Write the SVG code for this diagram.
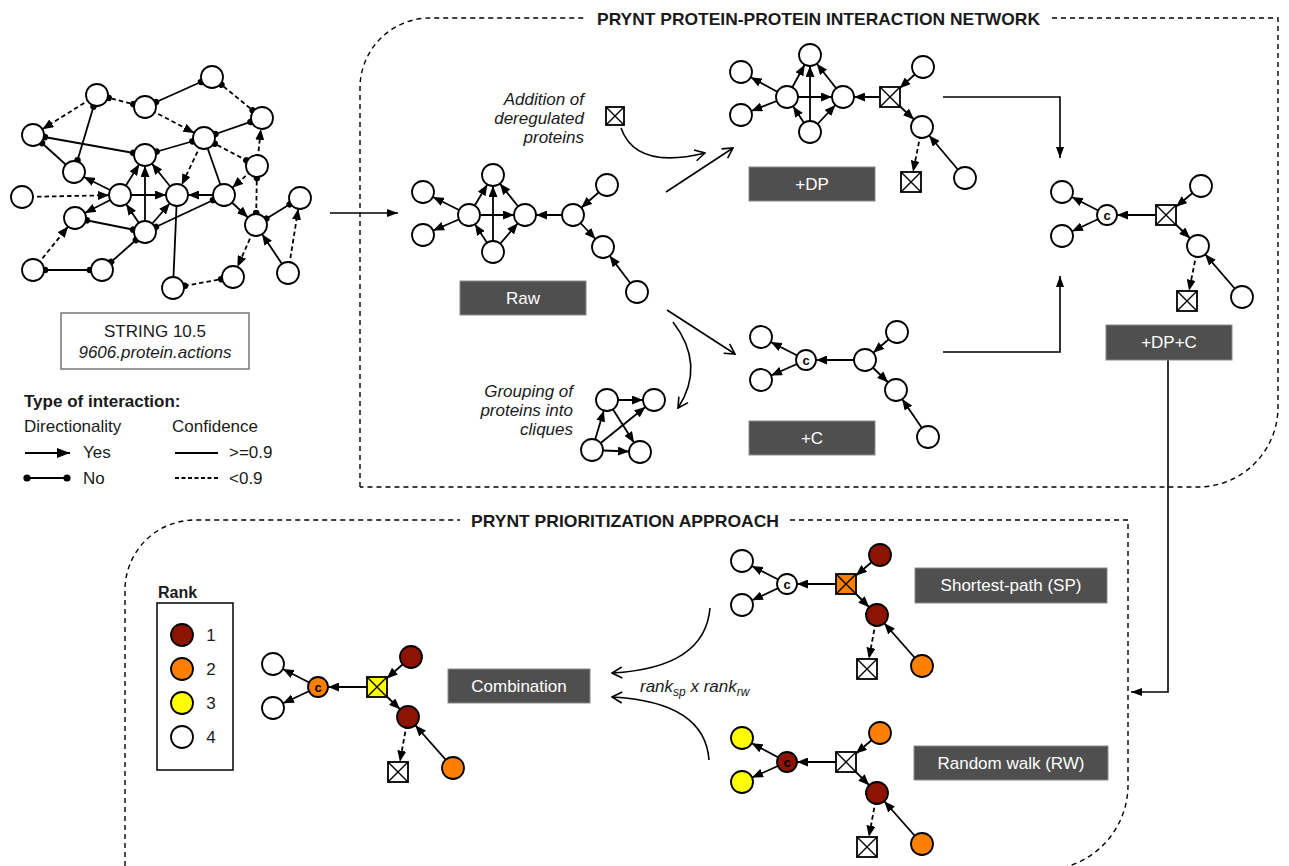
<svg xmlns="http://www.w3.org/2000/svg" width="1289" height="866" viewBox="0 0 1289 866">
<style>
text{font-family:"Liberation Sans",Arial,sans-serif;fill:#1a1a1a}
.n circle{fill:#fff;stroke:#000;stroke-width:1.8}
.sq rect{fill:#fff;stroke:#000;stroke-width:1.8}
.sq path{fill:none;stroke:#000;stroke-width:1.4}
.e{fill:none;stroke:#000;stroke-width:1.8}
.d{stroke-dasharray:4.5 3}
.flow{fill:none;stroke:#000;stroke-width:1.6}
.panel{fill:none;stroke:#000;stroke-width:1.4;stroke-dasharray:5 4}
.box rect{fill:#4f4f4f;stroke:#8a8a8a;stroke-width:1}
.box text{fill:#fff;font-size:17px;text-anchor:middle}
.lab{font-size:17px}
.it{font-size:17px;font-style:italic;text-anchor:end}
.cl{font-size:13px;font-weight:bold;text-anchor:middle;fill:#000}
.r1{fill:#8c1400!important}
.r2{fill:#ff8000!important}
.r3{fill:#ffff00!important}
</style>
<defs>
<marker id="ar" markerUnits="userSpaceOnUse" viewBox="0 -4.5 11 9" markerWidth="11" markerHeight="9" refX="22" refY="0" orient="auto"><path d="M0,-4.5 L11,0 L0,4.5 z" fill="#000"/></marker>
<marker id="arc" markerUnits="userSpaceOnUse" viewBox="0 -4.5 11 9" markerWidth="11" markerHeight="9" refX="21" refY="0" orient="auto"><path d="M0,-4.5 L11,0 L0,4.5 z" fill="#000"/></marker>
<marker id="arq" markerUnits="userSpaceOnUse" viewBox="0 -4.5 11 9" markerWidth="11" markerHeight="9" refX="24" refY="0" orient="auto"><path d="M0,-4.5 L11,0 L0,4.5 z" fill="#000"/></marker>
<marker id="arv" markerUnits="userSpaceOnUse" viewBox="0 -4.5 11 9" markerWidth="11" markerHeight="9" refX="21.5" refY="0" orient="auto"><path d="M0,-4.5 L11,0 L0,4.5 z" fill="#000"/></marker>
<marker id="dt" markerUnits="userSpaceOnUse" viewBox="-4 -4 8 8" markerWidth="8" markerHeight="8" refX="12" refY="0" orient="auto-start-reverse"><circle cx="0" cy="0" r="3.3" fill="#000"/></marker>
<marker id="fa" markerUnits="userSpaceOnUse" viewBox="0 -4 11 8" markerWidth="11" markerHeight="8" refX="11" refY="0" orient="auto"><path d="M0,-4 L11,0 L0,4 z" fill="#000"/></marker>
<marker id="la" markerUnits="userSpaceOnUse" viewBox="0 -5 13 10" markerWidth="13" markerHeight="10" refX="13" refY="0" orient="auto"><path d="M0,-5 L13,0 L0,5 z" fill="#000"/></marker>
<marker id="oa" markerUnits="userSpaceOnUse" viewBox="-11 -7 12 14" markerWidth="12" markerHeight="14" refX="0" refY="0" orient="auto"><path d="M-10,-5.5 L0,0 L-10,5.5" fill="none" stroke="#000" stroke-width="1.6"/></marker>
</defs>

<!-- panels -->
<path class="panel" d="M360,487 V88 A70,70 0 0 1 430,18 H586 M1052,18 H1278 V407 A80,80 0 0 1 1198,487 H360"/>
<path class="panel" d="M125,875 V590 A70,70 0 0 1 195,520 H460 M790,520 H1128 V785 A85,85 0 0 1 1043,870"/>
<text x="597" y="25" font-size="17" font-weight="bold" textLength="443" lengthAdjust="spacingAndGlyphs">PRYNT PROTEIN-PROTEIN INTERACTION NETWORK</text>
<text x="471" y="527" font-size="17" font-weight="bold" textLength="308" lengthAdjust="spacingAndGlyphs">PRYNT PRIORITIZATION APPROACH</text>

<g id="connectors">
<!-- STRING network -->
<path class="e d" d="M97,95 L145,107" marker-start="url(#dt)" marker-end="url(#dt)"/>
<path class="e d" d="M97,95 L33,135" marker-end="url(#ar)"/>
<path class="e" d="M97,95 L74,172" marker-start="url(#dt)" marker-end="url(#dt)"/>
<path class="e" d="M145,107 L212,77" marker-start="url(#dt)" marker-end="url(#dt)"/>
<path class="e d" d="M212,77 L262,118" marker-start="url(#dt)" marker-end="url(#dt)"/>
<path class="e d" d="M145,107 L204,138" marker-end="url(#ar)"/>
<path class="e" d="M204,138 L262,118" marker-start="url(#dt)" marker-end="url(#dt)"/>
<path class="e d" d="M257,166 L262,118" marker-end="url(#ar)"/>
<path class="e" d="M33,135 L145,155" marker-start="url(#dt)" marker-end="url(#dt)"/>
<path class="e" d="M33,135 L74,172" marker-start="url(#dt)"/>
<path class="e" d="M145,155 L204,138" marker-start="url(#dt)" marker-end="url(#dt)"/>
<path class="e d" d="M204,138 L177,195" marker-end="url(#ar)"/>
<path class="e" d="M204,138 L224,195"/>
<path class="e d" d="M204,138 L257,166" marker-start="url(#dt)" marker-end="url(#dt)"/>
<path class="e d" d="M257,166 L224,195" marker-end="url(#ar)"/>
<path class="e d" d="M257,166 L256,225" marker-start="url(#dt)" marker-end="url(#dt)"/>
<path class="e" d="M120,195 L74,172" marker-end="url(#ar)"/>
<path class="e" d="M120,195 L145,155" marker-end="url(#ar)"/>
<path class="e" d="M177,195 L145,155" marker-end="url(#ar)"/>
<path class="e" d="M145,232 L145,155" marker-end="url(#ar)"/>
<path class="e d" d="M22,197 L120,195" marker-end="url(#ar)"/>
<path class="e" d="M120,195 L177,195" marker-end="url(#ar)"/>
<path class="e" d="M224,195 L177,195" marker-end="url(#ar)"/>
<path class="e" d="M120,195 L75,218" marker-end="url(#ar)"/>
<path class="e" d="M145,232 L120,195" marker-end="url(#ar)"/>
<path class="e" d="M145,232 L177,195" marker-end="url(#ar)"/>
<path class="e" d="M75,218 L145,232" marker-start="url(#dt)" marker-end="url(#dt)"/>
<path class="e" d="M145,232 L224,195" marker-start="url(#dt)" marker-end="url(#dt)"/>
<path class="e" d="M177,195 L173,288"/>
<path class="e" d="M224,195 L256,225" marker-end="url(#ar)"/>
<path class="e" d="M256,225 L300,198" marker-start="url(#dt)" marker-end="url(#dt)"/>
<path class="e d" d="M288,273 L300,198" marker-end="url(#ar)"/>
<path class="e" d="M288,273 L256,225" marker-end="url(#ar)"/>
<path class="e d" d="M256,225 L233,277" marker-end="url(#ar)"/>
<path class="e d" d="M233,277 L173,288" marker-start="url(#dt)" marker-end="url(#dt)"/>
<path class="e d" d="M33,270 L75,218" marker-end="url(#ar)"/>
<path class="e" d="M33,270 L102,270" marker-start="url(#dt)" marker-end="url(#dt)"/>
<path class="e" d="M102,270 L145,232" marker-start="url(#dt)" marker-end="url(#dt)"/>

<!-- Raw -->
<path class="e" d="M469,215 L423,192" marker-end="url(#ar)"/>
<path class="e" d="M469,215 L423,235" marker-end="url(#ar)"/>
<path class="e" d="M469,215 L493,175" marker-end="url(#ar)"/>
<path class="e" d="M493,252 L493,175" marker-end="url(#ar)"/>
<path class="e" d="M469,215 L525,215" marker-end="url(#ar)"/>
<path class="e" d="M525,215 L493,175" marker-end="url(#ar)"/>
<path class="e" d="M493,252 L469,215" marker-end="url(#ar)"/>
<path class="e" d="M493,252 L525,215" marker-end="url(#ar)"/>
<path class="e" d="M573,215 L525,215" marker-end="url(#ar)"/>
<path class="e" d="M607,185 L573,215" marker-end="url(#ar)"/>
<path class="e" d="M573,215 L603,247" marker-end="url(#ar)"/>
<path class="e" d="M637,292 L603,247" marker-end="url(#ar)"/>

<!-- +DP -->
<path class="e" d="M787,97 L741,72" marker-end="url(#ar)"/>
<path class="e" d="M787,97 L741,115" marker-end="url(#ar)"/>
<path class="e" d="M787,97 L810,55" marker-end="url(#ar)"/>
<path class="e" d="M810,132 L810,55" marker-end="url(#ar)"/>
<path class="e" d="M787,97 L843,97" marker-end="url(#ar)"/>
<path class="e" d="M843,97 L810,55" marker-end="url(#ar)"/>
<path class="e" d="M810,132 L787,97" marker-end="url(#ar)"/>
<path class="e" d="M810,132 L843,97" marker-end="url(#ar)"/>
<path class="e" d="M890,97 L843,97" marker-end="url(#ar)"/>
<path class="e" d="M923,67 L890,97" marker-end="url(#arq)"/>
<path class="e" d="M890,97 L922,127" marker-end="url(#ar)"/>
<path class="e d" d="M922,127 L911,182" marker-end="url(#arv)"/>
<path class="e" d="M965,178 L922,127" marker-end="url(#ar)"/>

<!-- +DP+C -->
<path class="e" d="M1107,215 L1062,192" marker-end="url(#ar)"/>
<path class="e" d="M1107,215 L1062,236" marker-end="url(#ar)"/>
<path class="e" d="M1166,215 L1107,215" marker-end="url(#arc)"/>
<path class="e" d="M1201,186 L1166,215" marker-end="url(#arq)"/>
<path class="e" d="M1166,215 L1198,246" marker-end="url(#ar)"/>
<path class="e d" d="M1198,246 L1187,301" marker-end="url(#arv)"/>
<path class="e" d="M1242,297 L1198,246" marker-end="url(#ar)"/>

<!-- +C -->
<path class="e" d="M806,360 L761,337" marker-end="url(#ar)"/>
<path class="e" d="M806,360 L761,380" marker-end="url(#ar)"/>
<path class="e" d="M865,360 L806,360" marker-end="url(#arc)"/>
<path class="e" d="M897,332 L865,360" marker-end="url(#ar)"/>
<path class="e" d="M865,360 L896,390" marker-end="url(#ar)"/>
<path class="e" d="M928,437 L896,390" marker-end="url(#ar)"/>

<!-- cliques -->
<path class="e" d="M592,450 L607,400" marker-end="url(#ar)"/>
<path class="e" d="M607,400 L654,400" marker-end="url(#ar)"/>
<path class="e" d="M592,450 L640,452" marker-end="url(#ar)"/>
<path class="e" d="M607,400 L640,452" marker-end="url(#ar)"/>
<path class="e" d="M592,450 L654,400" marker-end="url(#ar)"/>

<!-- Combination -->
<path class="e" d="M318,687 L273,664" marker-end="url(#ar)"/>
<path class="e" d="M318,687 L273,708" marker-end="url(#ar)"/>
<path class="e" d="M377,687 L318,687" marker-end="url(#arc)"/>
<path class="e" d="M411,657 L377,687" marker-end="url(#arq)"/>
<path class="e" d="M377,687 L408,717" marker-end="url(#ar)"/>
<path class="e d" d="M408,717 L398,772" marker-end="url(#arv)"/>
<path class="e" d="M453,768 L408,717" marker-end="url(#ar)"/>

<!-- SP -->
<path class="e" d="M787,584 L742,561" marker-end="url(#ar)"/>
<path class="e" d="M787,584 L742,605" marker-end="url(#ar)"/>
<path class="e" d="M846,584 L787,584" marker-end="url(#arc)"/>
<path class="e" d="M880,555 L846,584" marker-end="url(#arq)"/>
<path class="e" d="M846,584 L877,615" marker-end="url(#ar)"/>
<path class="e d" d="M877,615 L867,669" marker-end="url(#arv)"/>
<path class="e" d="M922,666 L877,615" marker-end="url(#ar)"/>

<!-- RW -->
<path class="e" d="M787,762 L742,738" marker-end="url(#ar)"/>
<path class="e" d="M787,762 L742,782" marker-end="url(#ar)"/>
<path class="e" d="M846,762 L787,762" marker-end="url(#arc)"/>
<path class="e" d="M880,733 L846,762" marker-end="url(#arq)"/>
<path class="e" d="M846,762 L877,793" marker-end="url(#ar)"/>
<path class="e d" d="M877,793 L867,847" marker-end="url(#arv)"/>
<path class="e" d="M922,844 L877,793" marker-end="url(#ar)"/>

<!-- flow arrows -->
<path class="flow" d="M330,213 H398" marker-end="url(#fa)"/>
<path class="flow" d="M943,97 H1060 V158" marker-end="url(#fa)"/>
<path class="flow" d="M943,352 H1060 V276" marker-end="url(#fa)"/>
<path class="flow" d="M1168,360 V692 H1131" marker-end="url(#fa)"/>
<path class="flow" d="M666,192 L733,148" marker-end="url(#oa)"/>
<path class="flow" d="M667,310 L735,354" marker-end="url(#oa)"/>
<path class="flow" d="M621,128 Q636,170 705,153" marker-end="url(#oa)"/>
<path class="flow" d="M673,322 Q706,365 678,408" marker-end="url(#oa)"/>
<path class="flow" d="M710,608 Q705,668 612,673" marker-end="url(#oa)"/>
<path class="flow" d="M709,760 Q705,702 612,697" marker-end="url(#oa)"/>
</g>

<!-- STRING network nodes -->
<g id="s-A" class="n"><circle cx="212" cy="77" r="11"/></g>
<g id="s-B" class="n"><circle cx="97" cy="95" r="11"/></g>
<g id="s-C" class="n"><circle cx="145" cy="107" r="11"/></g>
<g id="s-D" class="n"><circle cx="262" cy="118" r="11"/></g>
<g id="s-E" class="n"><circle cx="33" cy="135" r="11"/></g>
<g id="s-F" class="n"><circle cx="204" cy="138" r="11"/></g>
<g id="s-G" class="n"><circle cx="145" cy="155" r="11"/></g>
<g id="s-H" class="n"><circle cx="74" cy="172" r="11"/></g>
<g id="s-I" class="n"><circle cx="257" cy="166" r="11"/></g>
<g id="s-J" class="n"><circle cx="22" cy="197" r="11"/></g>
<g id="s-K" class="n"><circle cx="120" cy="195" r="11"/></g>
<g id="s-L" class="n"><circle cx="177" cy="195" r="11"/></g>
<g id="s-M" class="n"><circle cx="224" cy="195" r="11"/></g>
<g id="s-N" class="n"><circle cx="300" cy="198" r="11"/></g>
<g id="s-O" class="n"><circle cx="75" cy="218" r="11"/></g>
<g id="s-P" class="n"><circle cx="256" cy="225" r="11"/></g>
<g id="s-Q" class="n"><circle cx="145" cy="232" r="11"/></g>
<g id="s-R" class="n"><circle cx="33" cy="270" r="11"/></g>
<g id="s-S" class="n"><circle cx="102" cy="270" r="11"/></g>
<g id="s-T" class="n"><circle cx="233" cy="277" r="11"/></g>
<g id="s-U" class="n"><circle cx="288" cy="273" r="11"/></g>
<g id="s-V" class="n"><circle cx="173" cy="288" r="11"/></g>

<!-- STRING box and legend -->
<g id="string-box">
<rect x="61" y="313" width="188" height="56" fill="#fff" stroke="#777" stroke-width="1.5"/>
<text class="lab" x="155" y="337" text-anchor="middle">STRING 10.5</text>
<text class="lab" x="155" y="358" text-anchor="middle" font-style="italic">9606.protein.actions</text>
</g>
<g id="legend-interaction">
<text x="24" y="407" font-size="17" font-weight="bold">Type of interaction:</text>
<text class="lab" x="24" y="432">Directionality</text>
<text class="lab" x="172" y="432">Confidence</text>
<path class="e" d="M25,453 H70" marker-end="url(#la)"/>
<text class="lab" x="83" y="458">Yes</text>
<path class="e" d="M27,478 H67"/>
<circle cx="27" cy="478" r="3.6"/>
<circle cx="67" cy="478" r="3.6"/>
<text class="lab" x="83" y="484">No</text>
<path class="e" d="M175,453 H218"/>
<text class="lab" x="229" y="458">&gt;=0.9</text>
<path class="e" d="M175,478 H218" stroke-dasharray="4 2.5"/>
<text class="lab" x="229" y="484">&lt;0.9</text>
</g>

<!-- Raw network -->
<g id="raw-1" class="n"><circle cx="423" cy="192" r="11"/></g>
<g id="raw-2" class="n"><circle cx="423" cy="235" r="11"/></g>
<g id="raw-3" class="n"><circle cx="493" cy="175" r="11"/></g>
<g id="raw-4" class="n"><circle cx="469" cy="215" r="11"/></g>
<g id="raw-5" class="n"><circle cx="525" cy="215" r="11"/></g>
<g id="raw-6" class="n"><circle cx="493" cy="252" r="11"/></g>
<g id="raw-7" class="n"><circle cx="573" cy="215" r="11"/></g>
<g id="raw-8" class="n"><circle cx="607" cy="185" r="11"/></g>
<g id="raw-9" class="n"><circle cx="603" cy="247" r="11"/></g>
<g id="raw-10" class="n"><circle cx="637" cy="292" r="11"/></g>
<g id="raw-label" class="box"><rect x="460" y="281" width="126" height="34"/><text x="523" y="304">Raw</text></g>

<!-- +DP network -->
<g id="dp-1" class="n"><circle cx="741" cy="72" r="11"/></g>
<g id="dp-2" class="n"><circle cx="741" cy="115" r="11"/></g>
<g id="dp-3" class="n"><circle cx="810" cy="55" r="11"/></g>
<g id="dp-4" class="n"><circle cx="787" cy="97" r="11"/></g>
<g id="dp-5" class="n"><circle cx="843" cy="97" r="11"/></g>
<g id="dp-6" class="n"><circle cx="810" cy="132" r="11"/></g>
<g id="dp-x" class="sq"><rect x="880" y="87" width="20" height="20"/><path d="M880,87 L900,107 M900,87 L880,107"/></g>
<g id="dp-8" class="n"><circle cx="923" cy="67" r="11"/></g>
<g id="dp-9" class="n"><circle cx="922" cy="127" r="11"/></g>
<g id="dp-x2" class="sq"><rect x="901" y="172" width="20" height="20"/><path d="M901,172 L921,192 M921,172 L901,192"/></g>
<g id="dp-11" class="n"><circle cx="965" cy="178" r="11"/></g>
<g id="dp-label" class="box"><rect x="749" y="167" width="126" height="34"/><text x="812" y="190">+DP</text></g>

<!-- +DP+C network -->
<g id="dpc-1" class="n"><circle cx="1062" cy="192" r="11"/></g>
<g id="dpc-2" class="n"><circle cx="1062" cy="236" r="11"/></g>
<g id="dpc-c" class="n"><circle cx="1107" cy="215" r="10"/><text class="cl" x="1107" y="219.5">c</text></g>
<g id="dpc-x" class="sq"><rect x="1156" y="205" width="20" height="20"/><path d="M1156,205 L1176,225 M1176,205 L1156,225"/></g>
<g id="dpc-4" class="n"><circle cx="1201" cy="186" r="11"/></g>
<g id="dpc-5" class="n"><circle cx="1198" cy="246" r="11"/></g>
<g id="dpc-x2" class="sq"><rect x="1177" y="291" width="20" height="20"/><path d="M1177,291 L1197,311 M1197,291 L1177,311"/></g>
<g id="dpc-7" class="n"><circle cx="1242" cy="297" r="11"/></g>
<g id="dpc-label" class="box"><rect x="1106" y="325" width="126" height="35"/><text x="1169" y="348">+DP+C</text></g>

<!-- +C network -->
<g id="c-1" class="n"><circle cx="761" cy="337" r="11"/></g>
<g id="c-2" class="n"><circle cx="761" cy="380" r="11"/></g>
<g id="c-c" class="n"><circle cx="806" cy="360" r="10"/><text class="cl" x="806" y="364.5">c</text></g>
<g id="c-4" class="n"><circle cx="865" cy="360" r="11"/></g>
<g id="c-5" class="n"><circle cx="897" cy="332" r="11"/></g>
<g id="c-6" class="n"><circle cx="896" cy="390" r="11"/></g>
<g id="c-7" class="n"><circle cx="928" cy="437" r="11"/></g>
<g id="c-label" class="box"><rect x="749" y="421" width="126" height="34"/><text x="812" y="444">+C</text></g>

<!-- annotations -->
<g id="addition">
<text class="it" x="584" y="105">Addition of</text>
<text class="it" x="584" y="124">deregulated</text>
<text class="it" x="584" y="143">proteins</text>
</g>
<g id="addition-icon" class="sq"><rect x="606" y="107" width="18" height="18"/><path d="M606,107 L624,125 M624,107 L606,125"/></g>
<g id="grouping">
<text class="it" x="573" y="397">Grouping of</text>
<text class="it" x="573" y="416">proteins into</text>
<text class="it" x="573" y="435">cliques</text>
</g>
<g id="cq-1" class="n"><circle cx="607" cy="400" r="11"/></g>
<g id="cq-2" class="n"><circle cx="654" cy="400" r="11"/></g>
<g id="cq-3" class="n"><circle cx="592" cy="450" r="11"/></g>
<g id="cq-4" class="n"><circle cx="640" cy="452" r="11"/></g>

<!-- Rank legend -->
<g id="rank-legend">
<text x="158" y="598" font-size="16" font-weight="bold">Rank</text>
<rect x="157" y="603" width="76" height="167" fill="#fff" stroke="#000" stroke-width="1.5"/>
<circle cx="182" cy="635" r="11" fill="#8c1400" stroke="#000" stroke-width="1.8"/>
<circle cx="182" cy="669" r="11" fill="#ff8000" stroke="#000" stroke-width="1.8"/>
<circle cx="182" cy="703" r="11" fill="#ffff00" stroke="#000" stroke-width="1.8"/>
<circle cx="182" cy="737" r="11" fill="#fff" stroke="#000" stroke-width="1.8"/>
<text class="lab" x="211" y="641" text-anchor="middle">1</text>
<text class="lab" x="211" y="675" text-anchor="middle">2</text>
<text class="lab" x="211" y="709" text-anchor="middle">3</text>
<text class="lab" x="211" y="743" text-anchor="middle">4</text>
</g>

<!-- Combination network -->
<g id="cb-1" class="n"><circle cx="273" cy="664" r="11"/></g>
<g id="cb-2" class="n"><circle cx="273" cy="708" r="11"/></g>
<g id="cb-c" class="n"><circle class="r2" cx="318" cy="687" r="10"/><text class="cl" x="318" y="691.5">c</text></g>
<g id="cb-x" class="sq"><rect class="r3" x="367" y="677" width="20" height="20"/><path d="M367,677 L387,697 M387,677 L367,697"/></g>
<g id="cb-4" class="n"><circle class="r1" cx="411" cy="657" r="11"/></g>
<g id="cb-5" class="n"><circle class="r1" cx="408" cy="717" r="11"/></g>
<g id="cb-x2" class="sq"><rect x="388" y="762" width="20" height="20"/><path d="M388,762 L408,782 M408,762 L388,782"/></g>
<g id="cb-7" class="n"><circle class="r2" cx="453" cy="768" r="11"/></g>
<g id="cb-label" class="box"><rect x="448" y="669" width="142" height="34"/><text x="519" y="692">Combination</text></g>
<text x="640" y="692" font-size="17" font-style="italic">rank<tspan font-size="12" dy="4">sp</tspan><tspan dy="-4"> x rank</tspan><tspan font-size="12" dy="4">rw</tspan></text>

<!-- SP network -->
<g id="sp-1" class="n"><circle cx="742" cy="561" r="11"/></g>
<g id="sp-2" class="n"><circle cx="742" cy="605" r="11"/></g>
<g id="sp-c" class="n"><circle cx="787" cy="584" r="10"/><text class="cl" x="787" y="588.5">c</text></g>
<g id="sp-x" class="sq"><rect class="r2" x="836" y="574" width="20" height="20"/><path d="M836,574 L856,594 M856,574 L836,594"/></g>
<g id="sp-4" class="n"><circle class="r1" cx="880" cy="555" r="11"/></g>
<g id="sp-5" class="n"><circle class="r1" cx="877" cy="615" r="11"/></g>
<g id="sp-x2" class="sq"><rect x="857" y="659" width="20" height="20"/><path d="M857,659 L877,679 M877,659 L857,679"/></g>
<g id="sp-7" class="n"><circle class="r2" cx="922" cy="666" r="11"/></g>
<g id="sp-label" class="box"><rect x="915" y="568" width="192" height="35"/><text x="1011" y="591">Shortest-path (SP)</text></g>

<!-- RW network -->
<g id="rw-1" class="n"><circle class="r3" cx="742" cy="738" r="11"/></g>
<g id="rw-2" class="n"><circle class="r3" cx="742" cy="782" r="11"/></g>
<g id="rw-c" class="n"><circle class="r1" cx="787" cy="762" r="10"/><text class="cl" x="787" y="766.5">c</text></g>
<g id="rw-x" class="sq"><rect x="836" y="752" width="20" height="20"/><path d="M836,752 L856,772 M856,752 L836,772"/></g>
<g id="rw-4" class="n"><circle class="r2" cx="880" cy="733" r="11"/></g>
<g id="rw-5" class="n"><circle class="r1" cx="877" cy="793" r="11"/></g>
<g id="rw-x2" class="sq"><rect x="857" y="837" width="20" height="20"/><path d="M857,837 L877,857 M877,837 L857,857"/></g>
<g id="rw-7" class="n"><circle class="r2" cx="922" cy="844" r="11"/></g>
<g id="rw-label" class="box"><rect x="914" y="746" width="194" height="34"/><text x="1011" y="769">Random walk (RW)</text></g>
</svg>
